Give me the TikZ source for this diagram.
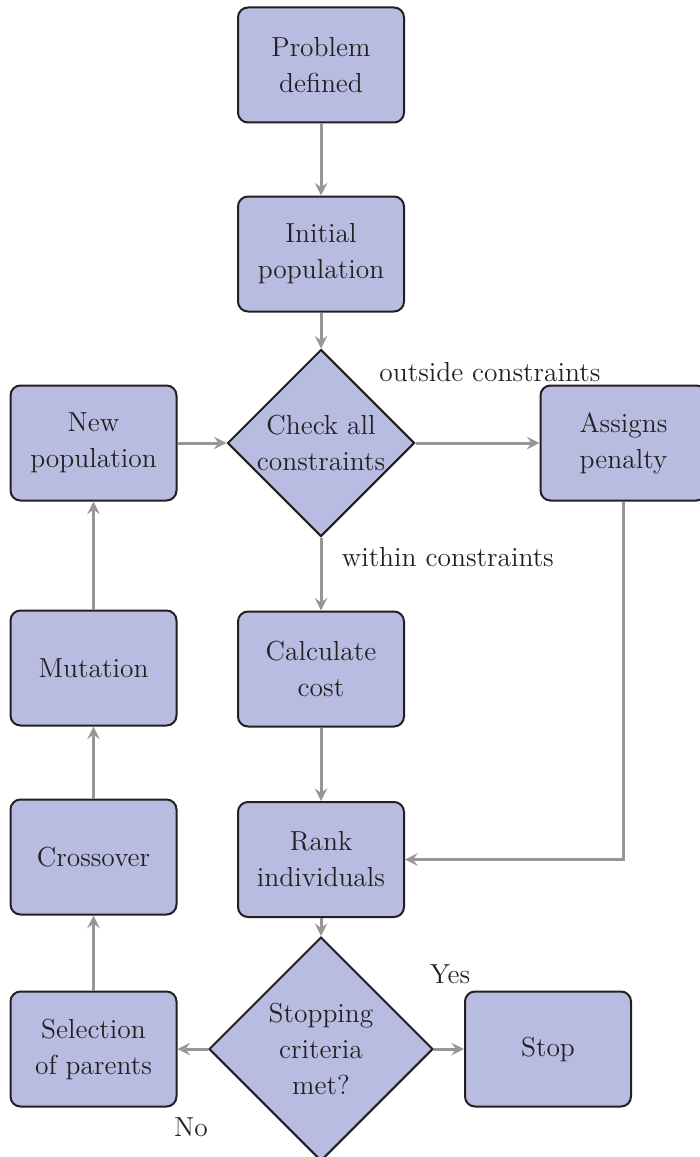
\documentclass[tikz,border=0pt]{standalone}
\usepackage{tikz}
\usetikzlibrary{positioning, shapes.geometric, arrows}
\definecolor{kfill}{RGB}{184,188,224}
\definecolor{kdark}{RGB}{35,31,32}
\definecolor{pfeil}{RGB}{150,150,150}
\tikzstyle{kasten} = [rectangle, rounded corners=4pt, draw=kdark, line width=0.8pt, fill=kfill, text=kdark, minimum width=66.4pt, minimum height=46pt, align=center, font=\fontsize{11}{14.4}\selectfont]
\tikzstyle{raute} = [diamond, shape aspect=1, draw=kdark, line width=0.8pt, fill=kfill, text=kdark, inner sep=0pt, align=center, font=\fontsize{11}{14.4}\selectfont]
\tikzstyle{lbl} = [text=kdark, font=\fontsize{11}{14.4}\selectfont]
\tikzstyle{arrow} = [->,>=stealth, draw=pfeil, line width=1.2pt]

\begin{document}
\begin{tikzpicture}
    	\useasboundingbox (0,0) rectangle (279.6pt,-462.8pt);
    	
    	\node [kasten] (prob) at (128.4pt,-26pt) {Problem\\defined};
    	\node [kasten, below=28.8pt of prob] (init) {Initial\\population};
    	\node [raute, minimum size=74.8pt, below=14.4pt of init] (check) {Check all\\constraints};
    	\node [kasten, below=29.2pt of check] (calc) {Calculate\\cost};
    	\node [kasten, below=29.4pt of calc] (rank) {Rank\\individuals};
    	\node [raute, minimum size=89.6pt, below=7.2pt of rank] (stopc) {Stopping\\criteria\\met?};
    	
    	\node [kasten, left=19.6pt of check] (newpop) {New\\population};
    	\node [kasten, right=49.6pt of check] (penalty) {Assigns\\penalty};
    	\node [kasten, below=43.2pt of newpop] (mut) {Mutation};
    	\node [kasten, below=28.8pt of mut] (cross) {Crossover};
    	\node [kasten] (select) at (cross |- stopc) {Selection\\of parents};
    	\node [kasten, right=12pt of stopc] (stop) {Stop};
    	
    	\node [lbl, anchor=west] (outside) at ([xshift=-18pt, yshift=28.4pt]check.east) {outside constraints};
    	\node [lbl, anchor=west] (within) at ([xshift=4.8pt, yshift=-8pt]check.south) {within constraints};
    	\node [lbl] (yes) at ([xshift=6.4pt, yshift=30pt]stopc.east) {Yes};
    	\node [lbl] (no) at ([xshift=-6.8pt, yshift=-31.2pt]stopc.west) {No};
    	
    	\draw[arrow] (prob) -- (init);
    	\draw[arrow] (init) -- (check);
    	\draw[arrow] (check) -- (calc);
    	\draw[arrow] (calc) -- (rank);
    	\draw[arrow] (rank) -- (stopc);
    	
    	\draw[arrow] (check) -- (penalty);
    	\draw[arrow] (penalty.south) |- (rank.east);
    	
    	\draw[arrow] (stopc) -- (stop);
    	\draw[arrow] (stopc) -- (select);
    	\draw[arrow] (select) -- (cross);
    	\draw[arrow] (cross) -- (mut);
    	\draw[arrow] (mut) -- (newpop);
    	\draw[arrow] (newpop) -- (check);
    	
\end{tikzpicture}
\end{document}
